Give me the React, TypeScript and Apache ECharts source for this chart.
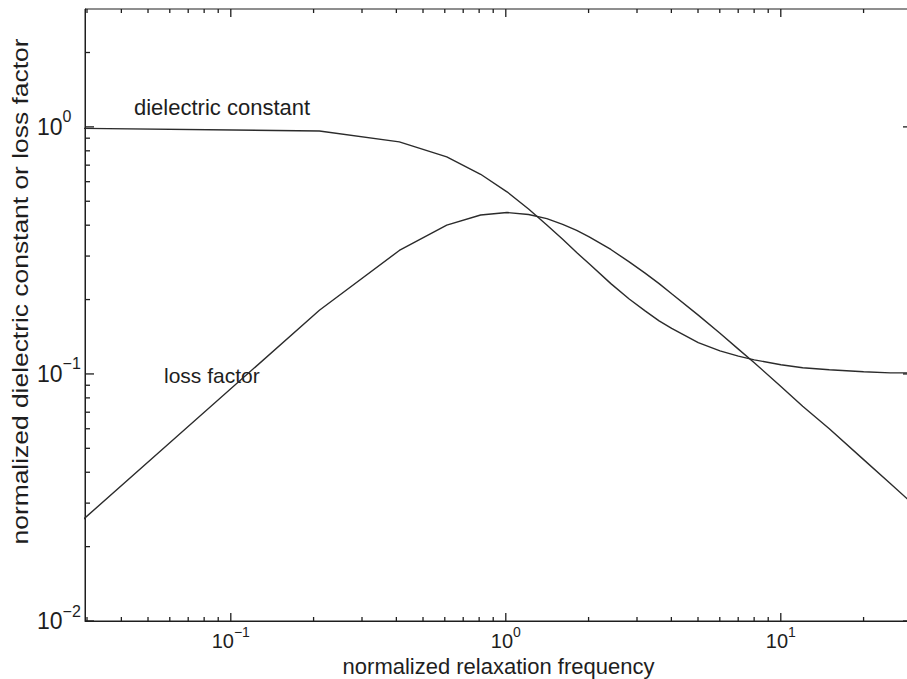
import React, { useEffect, useRef } from 'react';
import * as echarts from 'echarts';

// normalized relaxation frequency (sample points)
const freq = [0.01, 0.21, 0.41, 0.61, 0.81, 1.01, 1.21, 1.41, 1.61, 1.81, 2.01, 2.41, 2.81, 3.21, 3.61, 4.01, 5.01, 6.01, 7.01, 8.01, 10.01, 12.01, 15.01, 20.01, 25.01, 30.01];
// normalized dielectric constant
const dielectricConstant = [1.0, 0.962, 0.87, 0.756, 0.643, 0.546, 0.465, 0.401, 0.351, 0.31, 0.279, 0.232, 0.201, 0.18, 0.164, 0.153, 0.134, 0.124, 0.118, 0.114, 0.109, 0.106, 0.104, 0.102, 0.101, 0.101];
// normalized loss factor
const lossFactor = [0.009, 0.181, 0.316, 0.4, 0.44, 0.45, 0.442, 0.425, 0.403, 0.381, 0.359, 0.319, 0.284, 0.256, 0.232, 0.211, 0.173, 0.146, 0.126, 0.111, 0.089, 0.074, 0.06, 0.045, 0.036, 0.03];

// axes
const X_MIN = 0.0295;
const X_MAX = 30;
const Y_MIN = 0.01;
const Y_MAX = 3;
const xMajorTicks = [0.1, 1, 10];
const yMajorTicks = [0.01, 0.1, 1];
const xDecades = [0.01, 0.1, 1, 10];
const yDecades = [0.01, 0.1, 1];
const minorMultipliers = [2, 3, 4, 5, 6, 7, 8, 9];

const xTitle = 'normalized relaxation frequency';
const yTitle = 'normalized dielectric constant or loss factor';
const curveLabels = ['dielectric constant', 'loss factor'];

const FONT = '"Liberation Sans", Arial, Helvetica, sans-serif';
const INK = '#1e1e1e';

function buildTicks(decades: number[], majors: number[], lo: number, hi: number) {
  const out: number[][] = [];
  majors.forEach((v) => out.push([v, 1]));
  decades.forEach((d) => {
    minorMultipliers.forEach((m) => {
      const v = d * m;
      if (v > lo * 1.0001 && v < hi * 0.9999) out.push([v, 0]);
    });
  });
  return out;
}

function supLabel(v: number) {
  const e = Math.round(Math.log10(v));
  if (Math.abs(v / Math.pow(10, e) - 1) > 1e-6) return '';
  const ex = e < 0 ? '\u2212' + -e : String(e);
  return `{b|10}{s|${ex}}`;
}

function tickRect(x: number, y: number, w: number, h: number) {
  return {
    type: 'rect',
    shape: { x, y, width: w, height: h },
    style: { fill: INK, stroke: null },
  };
}

export default function App() {
  const ref = useRef<HTMLDivElement>(null);
  useEffect(() => {
    if (!ref.current) return;
    const chart = echarts.init(ref.current, undefined, { renderer: 'svg' });

    // every tick: [x, y, axis (0 = x axis, 1 = y axis), major]
    const tickData: number[][] = [];
    buildTicks(xDecades, xMajorTicks, X_MIN, X_MAX).forEach((t) => tickData.push([t[0], 0.3, 0, t[1]]));
    buildTicks(yDecades, yMajorTicks, Y_MIN, Y_MAX).forEach((t) => tickData.push([1, t[0], 1, t[1]]));

    const option: any = {
      animation: false,
      backgroundColor: '#ffffff',
      textStyle: { fontFamily: FONT, color: INK },
      grid: {
        left: 85,
        top: 9,
        width: 827,
        height: 612,
        containLabel: false,
        outerBoundsMode: 'none',
        show: true,
        borderColor: INK,
        borderWidth: 1,
        backgroundColor: 'transparent',
      },
      xAxis: {
        type: 'log',
        logBase: 10,
        min: X_MIN,
        max: X_MAX,
        axisLine: { show: true, lineStyle: { color: INK, width: 1 } },
        axisTick: { show: false },
        minorTick: { show: false },
        splitLine: { show: false },
        axisLabel: {
          interval: 0,
          hideOverlap: false,
          margin: 4,
          color: INK,
          formatter: supLabel,
          rich: {
            b: { fontSize: 20, fontFamily: FONT, color: INK, lineHeight: 32 },
            s: { fontSize: 14, fontFamily: FONT, color: INK, lineHeight: 14, verticalAlign: 'top' },
          },
        },
        name: xTitle,
        nameLocation: 'middle',
        nameGap: 32,
        nameTextStyle: { fontSize: 22, fontFamily: FONT, color: INK },
      },
      yAxis: {
        type: 'log',
        logBase: 10,
        min: Y_MIN,
        max: Y_MAX,
        axisLine: { show: true, lineStyle: { color: INK, width: 1 } },
        axisTick: { show: false },
        minorTick: { show: false },
        splitLine: { show: false },
        axisLabel: {
          interval: 0,
          hideOverlap: false,
          align: 'left',
          margin: 48,
          color: INK,
          formatter: supLabel,
          rich: {
            b: { fontSize: 23, fontFamily: FONT, color: INK, lineHeight: 36 },
            s: { fontSize: 16, fontFamily: FONT, color: INK, lineHeight: 16, verticalAlign: 'top' },
          },
        },
      },
      graphic: [
        {
          type: 'text',
          x: 20.5,
          y: 291.5,
          rotation: Math.PI / 2,
          scaleX: 1.2,
          silent: true,
          style: {
            text: yTitle,
            font: `22px ${FONT}`,
            fill: INK,
            align: 'center',
            verticalAlign: 'middle',
            textAlign: 'center',
            textVerticalAlign: 'middle',
          },
        },
        {
          type: 'text',
          x: 134,
          y: 107,
          silent: true,
          style: {
            text: curveLabels[0],
            font: `22px ${FONT}`,
            fill: INK,
            align: 'left',
            verticalAlign: 'middle',
            textAlign: 'left',
            textVerticalAlign: 'middle',
          },
        },
        {
          type: 'text',
          x: 164,
          y: 375.5,
          silent: true,
          style: {
            text: curveLabels[1],
            font: `21px ${FONT}`,
            fill: INK,
            align: 'left',
            verticalAlign: 'middle',
            textAlign: 'left',
            textVerticalAlign: 'middle',
          },
        },
      ],
      series: [
        {
          name: curveLabels[0],
          type: 'line',
          data: freq.map((f, i) => [f, dielectricConstant[i]]),
          showSymbol: false,
          symbol: 'none',
          lineStyle: { color: '#2b2b2b', width: 1.4 },
          clip: true,
          silent: true,
        },
        {
          name: curveLabels[1],
          type: 'line',
          data: freq.map((f, i) => [f, lossFactor[i]]),
          showSymbol: false,
          symbol: 'none',
          lineStyle: { color: '#2b2b2b', width: 1.4 },
          clip: true,
          silent: true,
        },
        {
          type: 'custom',
          name: 'ticks',
          silent: true,
          clip: false,
          z: 5,
          encode: { x: 0, y: 1 },
          data: tickData,
          renderItem: (params: any, api: any) => {
            const cs = params.coordSys;
            const p = api.coord([api.value(0), api.value(1)]);
            const major = api.value(3) === 1;
            if (api.value(2) === 1) {
              const len = major ? 9 : 5;
              return {
                type: 'group',
                children: [
                  tickRect(cs.x, p[1] - 0.65, len, 1.3),
                  tickRect(cs.x + cs.width - len, p[1] - 0.65, len, 1.3),
                ],
              };
            }
            const len = major ? 8 : 4;
            return {
              type: 'group',
              children: [
                tickRect(p[0] - 0.65, cs.y + cs.height - len, 1.3, len),
                tickRect(p[0] - 0.65, cs.y, 1.3, len),
              ],
            };
          },
        },
      ],
    };

    chart.setOption(option);
    return () => {
      chart.dispose();
    };
  }, []);

  return (
    <div
      ref={ref}
      style={{ position: 'absolute', left: 0, top: 0, width: 907, height: 679, background: '#fff' }}
    />
  );
}
